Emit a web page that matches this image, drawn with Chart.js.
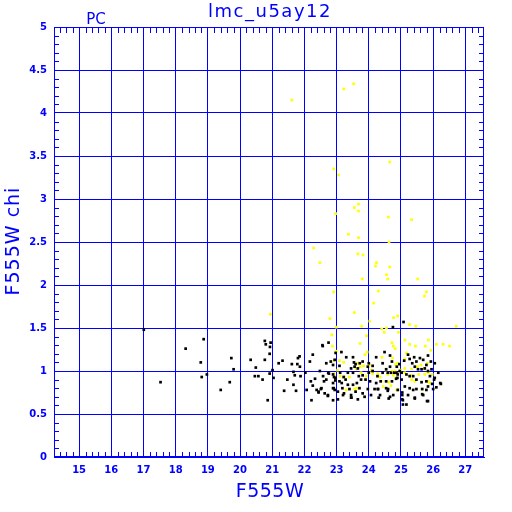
<!DOCTYPE html>
<html>
<head>
<meta charset="utf-8">
<script src="https://cdn.jsdelivr.net/npm/chart.js@4.4.0/dist/chart.umd.min.js"></script>
<style>
  html, body { margin: 0; padding: 0; background: #fff; }
  #wrap { width: 512px; height: 512px; }
</style>
</head>
<body>
<div id="wrap"><canvas id="chart" width="512" height="512"></canvas></div>
<script>
// ---- labels ----
const chartTitle = "lmc_u5ay12";
const cornerLabel = "PC";
const xLabel = "F555W";
const yLabel = "F555W chi";

// ---- axes ----
const xTicks = [15, 16, 17, 18, 19, 20, 21, 22, 23, 24, 25, 26, 27];
const yTicks = [0, 0.5, 1, 1.5, 2, 2.5, 3, 3.5, 4, 4.5, 5];
const xRange = [14.22, 27.58];
const yRange = [0, 5];

// ---- data: [F555W, chi] ----
const blackStars = [
  [17.01,1.48],[18.31,1.26],[17.53,0.87],[18.87,1.37],[18.78,1.10],[18.97,0.96],[18.81,0.93],
  [19.73,1.15],[19.80,1.02],[19.68,0.87],[19.40,0.78],[20.33,1.13],[20.49,1.04],[20.46,0.94],
  [20.57,0.94],[20.70,0.90],[20.77,1.13],[20.77,1.35],[20.80,1.31],[20.93,1.28],[20.95,1.33],
  [20.92,1.20],[21.01,1.01],[20.92,0.97],[21.04,0.92],[20.86,0.66],[21.20,1.09],[21.32,1.12],
  [21.47,0.90],[21.37,0.77],[21.61,1.08],[21.66,0.99],[21.70,0.95],[21.66,0.84],[21.74,0.77],
  [21.80,1.15],[21.85,1.17],[21.78,1.08],[21.86,1.05],[21.88,0.94],[22.03,0.98],[22.17,1.11],
  [22.26,1.19],[22.20,0.88],[22.26,0.83],[22.33,0.91],[22.07,0.78],[22.22,0.66],[22.38,0.78],
  [22.48,1.00],[22.51,0.79],[22.44,0.76],[22.57,1.29],[22.61,0.88],[22.89,1.07],[22.97,1.21],
  [22.76,0.97],[22.92,0.93],[22.96,0.89],[22.89,0.80],[22.73,0.71],[22.44,0.75],
  [25.08,1.57],[24.75,1.51],
  [22.56,1.30],[22.75,1.33],[23.15,1.22],[22.94,1.13],[22.68,1.09],[22.82,1.11],[23.09,1.06],
  [23.30,1.16],[23.51,1.16],[23.54,1.10],[23.59,1.08],[23.45,1.03],[23.56,1.05],[23.66,1.03],
  [23.72,1.09],[23.81,1.11],[23.97,1.05],[24.12,1.06],[24.00,1.09],[24.23,1.16],[24.49,1.22],
  [24.66,1.18],[24.72,1.11],[24.43,1.09],[24.54,1.02],[24.66,1.05],[24.87,1.05],[24.95,1.08],
  [22.58,0.94],[22.68,0.90],[22.74,0.98],[22.89,0.96],[22.96,0.92],[23.11,0.98],[23.22,0.93],
  [23.35,0.98],[23.51,0.98],[23.69,0.94],[23.81,0.95],[24.00,0.98],[24.12,1.00],[24.27,0.94],
  [24.43,0.98],[24.59,0.98],[24.69,0.98],[24.79,0.98],[24.90,0.96],[22.89,0.86],[23.09,0.88],
  [23.16,0.86],[23.28,0.90],[23.35,0.84],[23.51,0.84],[23.63,0.86],[23.76,0.90],[23.90,0.90],
  [24.04,0.88],[24.23,0.86],[24.37,0.88],[24.54,0.88],[24.72,0.88],[24.85,0.91],[22.53,0.80],
  [22.63,0.74],[22.73,0.72],[22.94,0.78],[23.04,0.76],[23.18,0.80],[23.23,0.74],[23.40,0.79],
  [23.45,0.72],[23.59,0.76],[23.71,0.80],[23.81,0.74],[23.97,0.79],[24.07,0.72],[24.18,0.79],
  [24.28,0.79],[24.35,0.72],[24.54,0.80],[24.59,0.77],[24.66,0.70],[24.76,0.72],[24.90,0.78],
  [22.89,0.66],[23.04,0.67],[23.45,0.69],[23.66,0.67],[23.87,0.70],
  [24.86,0.98],[24.96,1.00],[25.02,0.98],[25.10,1.12],[25.22,1.19],[25.27,1.14],[25.35,1.09],
  [25.41,1.16],[25.48,1.11],[25.59,1.15],[25.69,1.13],[25.84,1.18],[25.93,1.11],[26.05,1.09],
  [25.79,1.07],[25.43,1.05],[25.53,1.02],[25.64,1.02],[25.74,1.03],[25.84,1.00],[25.95,1.02],
  [26.16,0.98],[26.05,0.92],[24.89,0.92],[25.02,0.90],[25.17,0.96],[25.27,0.94],[25.38,0.94],
  [25.48,0.90],[25.64,0.87],[25.79,0.88],[25.90,0.94],[25.97,0.85],[26.03,0.90],[26.24,0.85],
  [25.12,0.82],[25.27,0.80],[25.38,0.78],[25.48,0.79],[25.66,0.79],[25.79,0.78],[25.84,0.82],
  [26.00,0.79],[26.10,0.81],[25.04,0.75],[25.22,0.72],[25.43,0.69],[25.69,0.72],[25.84,0.65],
  [25.04,0.67],[25.17,0.61],
  [24.29,0.79],[24.60,0.79],[25.04,0.72],[25.06,0.66],[25.06,0.61],[25.43,0.68],[25.66,0.73],
  [25.81,0.65],[23.46,0.69],[23.20,0.72],[22.91,0.80],[24.31,0.69],[24.62,0.68],[26.22,0.86]
];

const yellowStars = [
  [21.61,4.15],[23.22,4.28],[23.53,4.34],[22.91,3.35],[23.06,3.28],[24.65,3.43],[23.68,2.94],
  [23.55,2.90],[23.68,2.86],[22.97,2.83],[24.61,2.79],[25.33,2.76],[23.37,2.59],[23.68,2.55],
  [24.63,2.50],[22.29,2.43],[22.48,2.26],[23.66,2.36],[23.82,2.35],[24.24,2.26],[24.21,2.22],
  [24.65,2.21],[24.55,2.12],[23.80,2.07],[24.59,2.07],[25.52,2.07],[22.91,1.92],[24.30,1.93],
  [25.79,1.92],[25.73,1.87],[24.15,1.79],[23.55,1.68],[22.79,1.61],[24.03,1.58],[24.77,1.62],
  [24.90,1.64],[23.78,1.52],[22.99,1.51],[25.27,1.54],[25.46,1.52],[26.72,1.52],[24.40,1.49],
  [24.55,1.50],[22.85,1.42],[23.93,1.41],[24.48,1.45],[24.92,1.45],[20.94,1.66],
  [25.85,1.36],[26.10,1.31],[26.31,1.31],[26.51,1.29],
  [22.87,1.29],[22.99,1.23],[22.93,1.12],[23.03,1.01],[22.91,0.95],
  [23.73,1.32],[24.72,1.33],[24.76,1.29],[24.82,1.26],[23.95,1.22],[23.88,1.19],[24.41,1.16],
  [24.74,1.15],[24.90,1.09],[23.09,1.12],[23.22,1.10],[23.66,1.09],[23.84,1.06],[23.73,1.05],
  [24.02,1.07],[23.61,1.02],[24.07,1.01],[24.54,1.01],[24.72,1.00],[24.82,1.00],[22.91,0.97],
  [23.11,0.94],[23.25,0.93],[23.40,0.93],[23.76,0.98],[23.92,0.94],[24.12,0.97],[24.28,0.97],
  [24.35,0.93],[24.59,0.96],[24.76,0.95],[24.85,0.92],[24.39,0.88],[23.63,0.80],[23.30,0.78],
  [23.56,0.79],[24.45,0.82],[24.69,0.83],[24.87,0.78],[24.62,0.87],
  [25.12,1.36],[25.27,1.31],[25.45,1.29],[25.76,1.29],[25.93,1.24],[25.17,1.21],[25.12,1.14],
  [24.83,1.08],[24.99,1.01],[25.12,1.03],[25.33,1.02],[25.51,1.05],[25.62,1.07],[25.74,1.02],
  [25.82,1.09],[24.89,0.97],[25.12,0.98],[25.31,0.95],[25.55,0.96],[25.74,0.96],[25.84,0.98],
  [25.97,0.96],[25.43,0.88],[25.84,0.88],[25.90,0.86],[25.66,0.79],[24.91,0.78],[25.33,0.90]
];

const BLUE = "#0000ff";
const tickFont = { family: "DejaVu Sans", size: 10, weight: "bold" };

// frame, inward minor ticks and all the free text
const decorPlugin = {
  id: "decor",
  afterDraw(chart) {
    const ctx = chart.ctx;
    const a = chart.chartArea;
    const xs = chart.scales.x;
    const ys = chart.scales.y;
    ctx.save();
    ctx.strokeStyle = BLUE;
    ctx.lineWidth = 1;
    ctx.strokeRect(Math.round(a.left) + 0.5, Math.round(a.top) + 0.5,
      Math.round(a.right - a.left) - 1, Math.round(a.bottom - a.top) - 1);

    ctx.beginPath();
    for (let i = Math.ceil(xRange[0] * 5); i <= Math.floor(xRange[1] * 5); i++) {
      if (i % 5 === 0) continue;
      const px = Math.round(xs.getPixelForValue(i / 5)) + 0.5;
      ctx.moveTo(px, a.top); ctx.lineTo(px, a.top + 6);
      ctx.moveTo(px, a.bottom); ctx.lineTo(px, a.bottom - 5);
    }
    for (let i = 1; i < 50; i++) {
      if (i % 5 === 0) continue;
      const py = Math.round(ys.getPixelForValue(i / 10)) + 0.5;
      ctx.moveTo(a.left, py); ctx.lineTo(a.left + 5, py);
      ctx.moveTo(a.right, py); ctx.lineTo(a.right - 5, py);
    }
    ctx.stroke();

    ctx.fillStyle = BLUE;
    ctx.textBaseline = "alphabetic";
    ctx.textAlign = "center";
    ctx.font = "18px 'DejaVu Sans'";
    ctx.letterSpacing = "1.5px";
    ctx.fillText(chartTitle, 270, 17);
    ctx.font = "15px 'DejaVu Sans'";
    ctx.letterSpacing = "0px";
    ctx.fillText(cornerLabel, 96, 24);
    ctx.font = "19px 'DejaVu Sans'";
    ctx.letterSpacing = "0.5px";
    ctx.fillText(xLabel, 270, 497);
    ctx.translate(19, 241);
    ctx.rotate(-Math.PI / 2);
    ctx.letterSpacing = "1px";
    ctx.fillText(yLabel, 0, 0);
    ctx.restore();
  }
};

new Chart(document.getElementById("chart"), {
  type: "scatter",
  data: {
    datasets: [
      {
        label: "black",
        data: blackStars.map(p => ({ x: p[0], y: p[1] })),
        backgroundColor: "#000000",
        borderWidth: 0,
        pointStyle: "rect",
        pointRadius: 1.9
      },
      {
        label: "yellow",
        data: yellowStars.map(p => ({ x: p[0], y: p[1] })),
        backgroundColor: "#ffff00",
        borderWidth: 0,
        pointStyle: "rect",
        pointRadius: 1.9
      }
    ]
  },
  options: {
    responsive: false,
    animation: false,
    devicePixelRatio: 1,
    layout: { padding: { top: 27, right: 28, left: 0, bottom: 0 } },
    plugins: { legend: { display: false }, tooltip: { enabled: false }, title: { display: false } },
    scales: {
      x: {
        type: "linear",
        position: "bottom",
        min: xRange[0],
        max: xRange[1],
        afterBuildTicks: s => { s.ticks = xTicks.map(v => ({ value: v })); },
        afterFit: s => { s.height = 55; },
        grid: { color: BLUE, lineWidth: 1, drawTicks: false },
        border: { display: true, color: BLUE },
        ticks: { color: BLUE, font: tickFont, padding: 7, maxRotation: 0, autoSkip: false,
                 callback: v => String(v) }
      },
      y: {
        type: "linear",
        min: yRange[0],
        max: yRange[1],
        afterBuildTicks: s => { s.ticks = yTicks.map(v => ({ value: v })); },
        afterFit: s => { s.width = 54; },
        grid: { color: BLUE, lineWidth: 1, drawTicks: false },
        border: { display: true, color: BLUE },
        ticks: { color: BLUE, font: tickFont, padding: 7, autoSkip: false,
                 callback: v => String(v) }
      }
    }
  },
  plugins: [decorPlugin]
});
</script>
</body>
</html>
